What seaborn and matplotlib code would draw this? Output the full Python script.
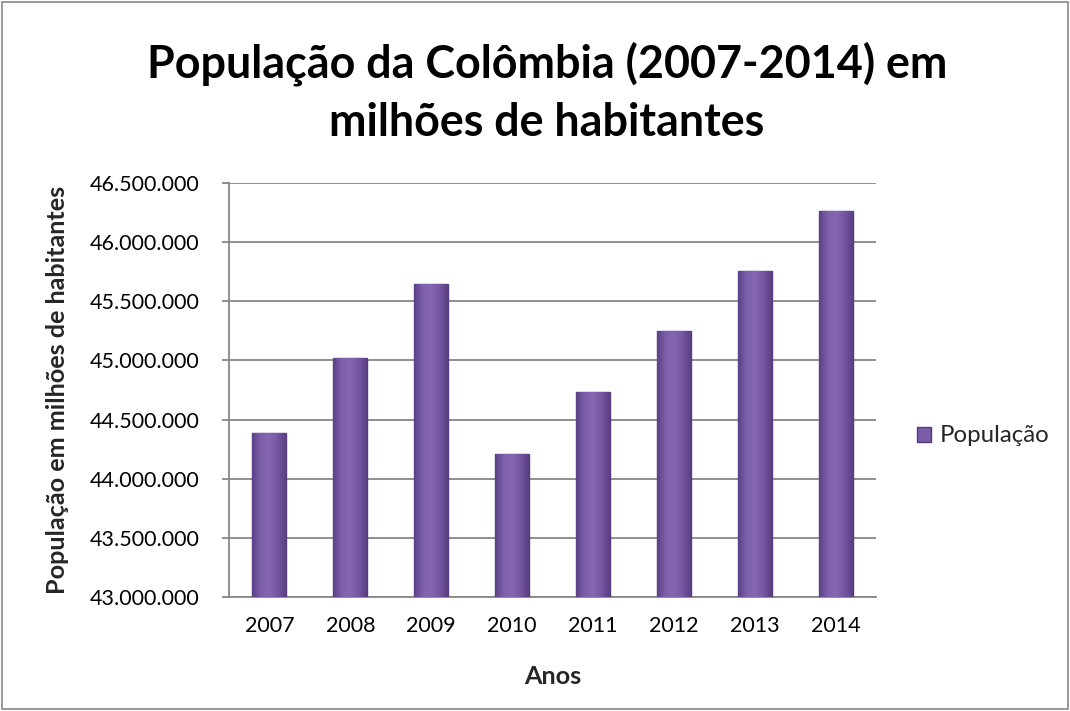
import matplotlib
matplotlib.use('Agg')
import matplotlib.pyplot as plt
import matplotlib.ticker as mticker
from matplotlib.patches import Rectangle
from matplotlib.colors import LinearSegmentedColormap
import numpy as np
import seaborn as sns

# dados
anos = ['2007', '2008', '2009', '2010', '2011', '2012', '2013', '2014']
populacao = [44385000, 45020000, 45650000, 44210000, 44730000, 45250000, 45760000, 46260000]
y_ticks = [43000000, 43500000, 44000000, 44500000, 45000000, 45500000, 46000000, 46500000]

W, H = 1070, 711

sns.set_style('white')
plt.rcParams['font.family'] = ['Lato', 'DejaVu Sans']

fig = plt.figure(figsize=(W / 100, H / 100), dpi=100)
ax = fig.add_axes([229 / W, 1 - 597 / H, (876 - 229) / W, (597 - 183) / H])

sns.barplot(x=anos, y=populacao, color='#7a5ba7', width=0.42, saturation=1,
            edgecolor='#553c7c', linewidth=1.0, label='População', ax=ax, zorder=3)

ax.set_ylim(43000000, 46500000)
ax.set_xlim(-0.5, len(anos) - 0.5)

# leve degrade nas barras, como no original
cmap = LinearSegmentedColormap.from_list('barra', ['#5b4286', '#7d5fab', '#8466b2', '#7657a3', '#5a4083'])
grad = np.linspace(0, 1, 64).reshape(1, -1)
for bar in list(ax.patches):
    x0, w, h = bar.get_x(), bar.get_width(), bar.get_height()
    im = ax.imshow(grad, extent=[x0, x0 + w, 43000000, h], aspect='auto', cmap=cmap,
                   zorder=3.2, interpolation='bicubic')
    im.set_clip_path(bar)
ax.set_ylim(43000000, 46500000)
ax.set_xlim(-0.5, len(anos) - 0.5)

ax.set_yticks(y_ticks)
ax.yaxis.set_major_formatter(mticker.FuncFormatter(lambda v, p: f'{int(v):,}'.replace(',', '.')))
ax.grid(axis='y', color='#878787', linewidth=1.3, zorder=0)
ax.set_axisbelow(True)

for s in ['top', 'right']:
    ax.spines[s].set_visible(False)
for s in ['left', 'bottom']:
    ax.spines[s].set_color('#878787')
    ax.spines[s].set_linewidth(1.3)

ax.set_xticks([i - 0.5 for i in range(len(anos) + 1)], minor=True)
ax.tick_params(axis='x', which='major', length=0, pad=14, colors='black')
ax.tick_params(axis='x', which='minor', length=5, color='#878787', width=1.3, direction='out')
ax.tick_params(axis='y', which='major', length=5, color='#878787', width=1.3, direction='out',
               colors='black', left=True, pad=16)

ax.set_xlabel('Anos', fontweight='bold')
ax.set_ylabel('População em milhões de habitantes', fontweight='bold')
ax.xaxis.set_label_coords(0.5, (597 - 676) / 414)
ax.yaxis.set_label_coords((58 - 229) / 647, 0.5)
ax.xaxis.label.set_va('center')
ax.yaxis.label.set_va('center')

t1 = fig.text(547 / W, 1 - 77 / H, 'População da Colômbia (2007-2014) em',
              ha='center', va='baseline', fontweight='bold', color='black')
t2 = fig.text(547 / W, 1 - 136 / H, 'milhões de habitantes',
              ha='center', va='baseline', fontweight='bold', color='black')

leg = ax.legend(loc='center left', bbox_to_anchor=(917 / W, 1 - 436 / H),
                bbox_transform=fig.transFigure, frameon=False, borderpad=0, borderaxespad=0,
                fontsize=16, handlelength=0.62, handleheight=0.62, handletextpad=0.4)

fig.patches.append(Rectangle((0.002, 0.003), 0.996, 0.994, transform=fig.transFigure,
                             fill=False, edgecolor='#878787', linewidth=1.2))


# ajusta tamanho das fontes para a largura medida no original
def fit(texts, ref, target, dim='w'):
    for _ in range(3):
        r = fig.canvas.get_renderer()
        bb = ref.get_window_extent(r)
        cur = bb.width if dim == 'w' else bb.height
        size = ref.get_fontsize() * target / cur
        for t in texts:
            t.set_fontsize(size)


fig.canvas.draw()
fit([t1, t2], t2, 436)
ax.tick_params(axis='both', labelsize=15)
fig.canvas.draw()
fit(ax.get_yticklabels() + ax.get_xticklabels(), ax.get_yticklabels()[-1], 110)
fit([ax.yaxis.label, ax.xaxis.label], ax.yaxis.label, 410, 'h')
fit(leg.get_texts(), leg.get_texts()[0], 110)

fig.savefig('out.png', dpi=100, facecolor='white')
